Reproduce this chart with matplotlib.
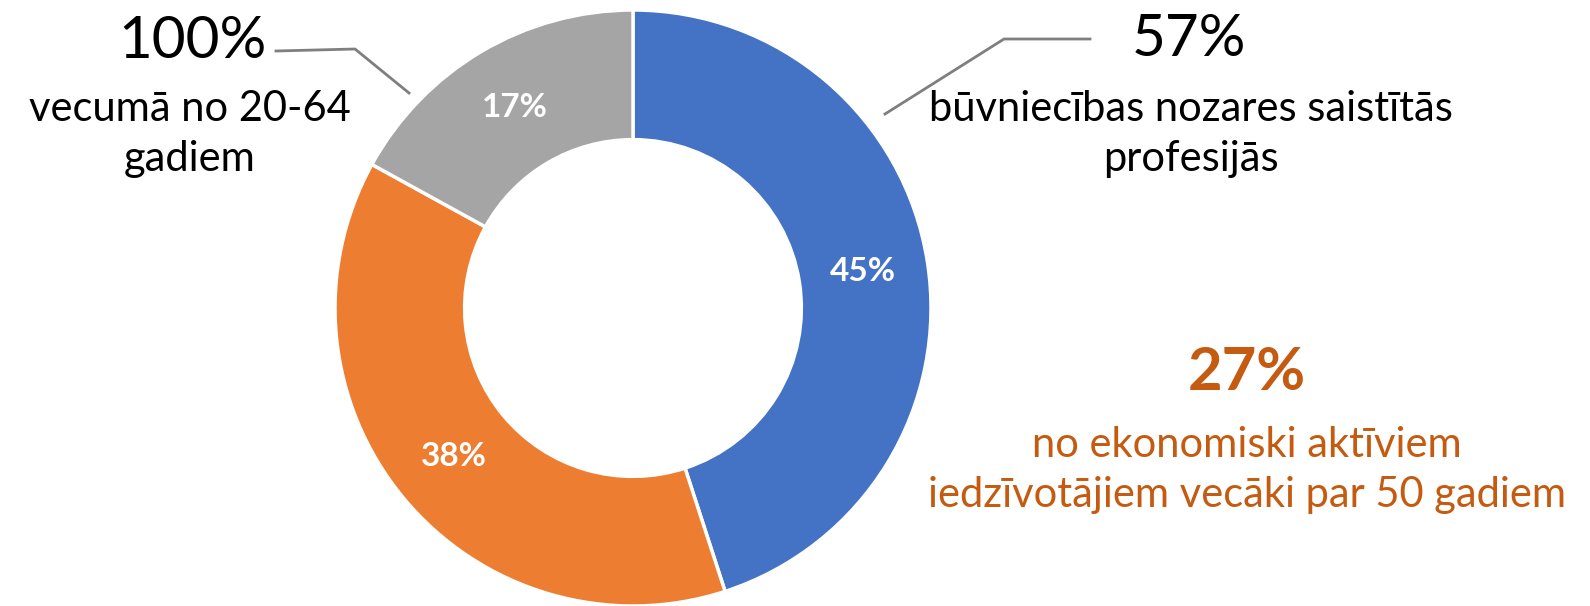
import matplotlib
matplotlib.use("Agg")
import matplotlib.pyplot as plt

# data
shares = [45, 38, 17]
share_labels = ["45%", "38%", "17%"]
colors = ["#4472C4", "#ED7D31", "#A5A5A5"]

left_big = "100%"
left_text = "vecumā no 20-64\ngadiem"
right_big = "57%"
right_text = "būvniecības nozares saistītās\nprofesijās"
older_big = "27%"
older_text = "no ekonomiski aktīviem\niedzīvotājiem vecāki par 50 gadiem"

W, H = 1590, 606
plt.rcParams['font.family'] = ['Lato', 'DejaVu Sans']

fig = plt.figure(figsize=(W / 100, H / 100), dpi=100)
ax = fig.add_axes([0, 0, 1, 1])

cx, cy, r = 633, H - 308, 298
wedges, texts, autotexts = ax.pie(
    shares, colors=colors, startangle=90, counterclock=False,
    radius=r, center=(cx, cy), frame=True,
    labels=None, autopct=lambda p: "",
    pctdistance=0.78,
    wedgeprops=dict(width=r * 0.435, edgecolor="white", linewidth=2.5))
for t, lab in zip(autotexts, share_labels):
    t.set_text(lab)
    t.set_color("white")
    t.set_fontsize(24)
    t.set_fontweight("bold")
ax.set_xlim(0, W)
ax.set_ylim(0, H)
ax.set_aspect('equal')
ax.axis('off')

# leader lines
grey = "#7F7F7F"
ax.plot([276, 355, 409], [H - 51, H - 49, H - 93], color=grey, lw=2)
ax.plot([1090, 1004, 885], [H - 39, H - 39, H - 114], color=grey, lw=2)

# left annotation
ax.text(192, H - 41, left_big, ha='center', va='center', fontsize=42, color='black')
ax.text(190, H - 134, left_text, ha='center', va='center', fontsize=30,
        color='black', linespacing=1.4)

# right annotation
ax.text(1189, H - 40, right_big, ha='center', va='center', fontsize=42, color='black')
ax.text(1191, H - 134, right_text, ha='center', va='center', fontsize=30,
        color='black', linespacing=1.4)

# older workers
orange_dark = "#C55A11"
ax.text(1247, H - 373, older_big, ha='center', va='center', fontsize=43,
        color=orange_dark, fontweight='bold')
ax.text(1247, H - 470, older_text, ha='center', va='center', fontsize=30,
        color=orange_dark, linespacing=1.4)

fig.savefig("out.png", dpi=100)
